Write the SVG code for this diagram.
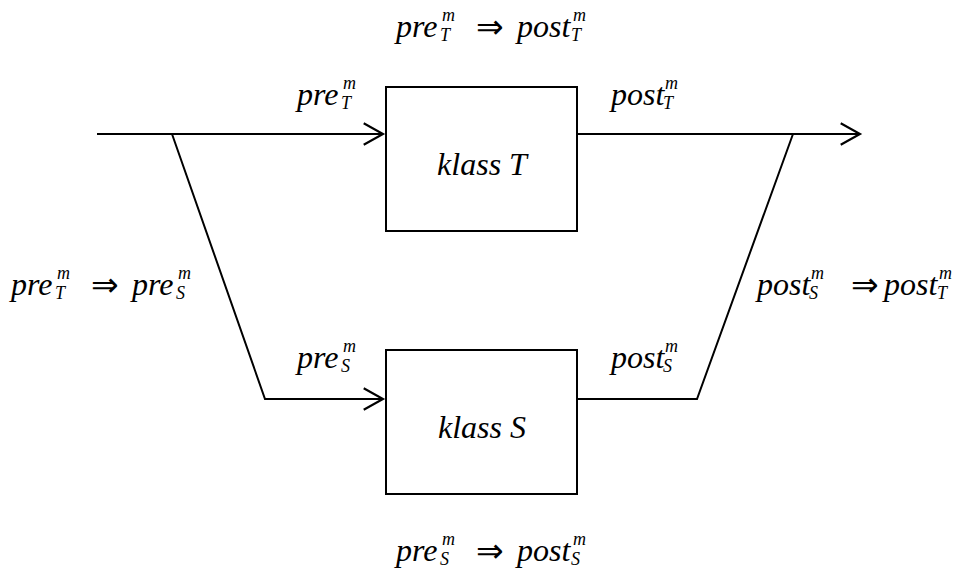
<svg xmlns="http://www.w3.org/2000/svg" width="962" height="569" viewBox="0 0 962 569">
<style>
.m{font-size:32px}
.s{font-size:18px}
.op{font-style:normal;font-size:33px}
.box{fill:#fff;stroke:#000;stroke-width:2}
.ln{fill:none;stroke:#000;stroke-width:2}
</style>
<defs>
<marker id="arr" markerUnits="userSpaceOnUse" markerWidth="30" markerHeight="30" viewBox="-20 -14 24 28" refX="0" refY="0" orient="auto" overflow="visible">
<path d="M-18,-10 L0,0 L-18,10" fill="none" stroke="#000" stroke-width="2"/>
</marker>
</defs>
<g id="connectors">
<path class="ln" d="M97,134 L383,134" marker-end="url(#arr)"/>
<path class="ln" d="M577,134 L860,134" marker-end="url(#arr)"/>
<path class="ln" d="M172,134 L265,399 L383,399" marker-end="url(#arr)"/>
<path class="ln" d="M577,399 L697,399 L793,134"/>
</g>
<g font-family="Liberation Serif" font-style="italic" fill="#000">
<g id="classT">
<rect class="box" x="386" y="87" width="191" height="144"/>
<text class="m" x="482" y="175" text-anchor="middle">klass T</text>
</g>
<g id="classS">
<rect class="box" x="386" y="350" width="191" height="144"/>
<text class="m" x="482" y="438" text-anchor="middle">klass S</text>
</g>
<g id="labels">
<g id="top-label">
<text class="m" x="396" y="37">pre</text><text class="s" x="442" y="21">m</text><text class="s" x="440" y="41">T</text>
<text class="op" x="476" y="38">⇒</text>
<text class="m" x="517" y="37">post</text><text class="s" x="573" y="21">m</text><text class="s" x="571" y="41">T</text>
</g>
<g id="preT">
<text class="m" x="297" y="105">pre</text><text class="s" x="343" y="89">m</text><text class="s" x="341" y="109">T</text>
</g>
<g id="postT">
<text class="m" x="611" y="105">post</text><text class="s" x="665" y="89">m</text><text class="s" x="663" y="109">T</text>
</g>
<g id="preS">
<text class="m" x="297" y="368">pre</text><text class="s" x="343" y="352">m</text><text class="s" x="341" y="372">S</text>
</g>
<g id="postS">
<text class="m" x="611" y="368">post</text><text class="s" x="665" y="352">m</text><text class="s" x="663" y="372">S</text>
</g>
<g id="left-label">
<text class="m" x="11" y="295">pre</text><text class="s" x="57" y="279">m</text><text class="s" x="55" y="299">T</text>
<text class="op" x="91" y="296">⇒</text>
<text class="m" x="132" y="295">pre</text><text class="s" x="178" y="279">m</text><text class="s" x="176" y="299">S</text>
</g>
<g id="right-label">
<text class="m" x="757" y="295">post</text><text class="s" x="811" y="279">m</text><text class="s" x="809" y="299">S</text>
<text class="op" x="851" y="296">⇒</text>
<text class="m" x="884" y="295">post</text><text class="s" x="939" y="279">m</text><text class="s" x="937" y="299">T</text>
</g>
<g id="bottom-label">
<text class="m" x="396" y="561">pre</text><text class="s" x="442" y="545">m</text><text class="s" x="440" y="565">S</text>
<text class="op" x="476" y="562">⇒</text>
<text class="m" x="517" y="561">post</text><text class="s" x="573" y="545">m</text><text class="s" x="571" y="565">S</text>
</g>
</g>
</g>
</svg>
